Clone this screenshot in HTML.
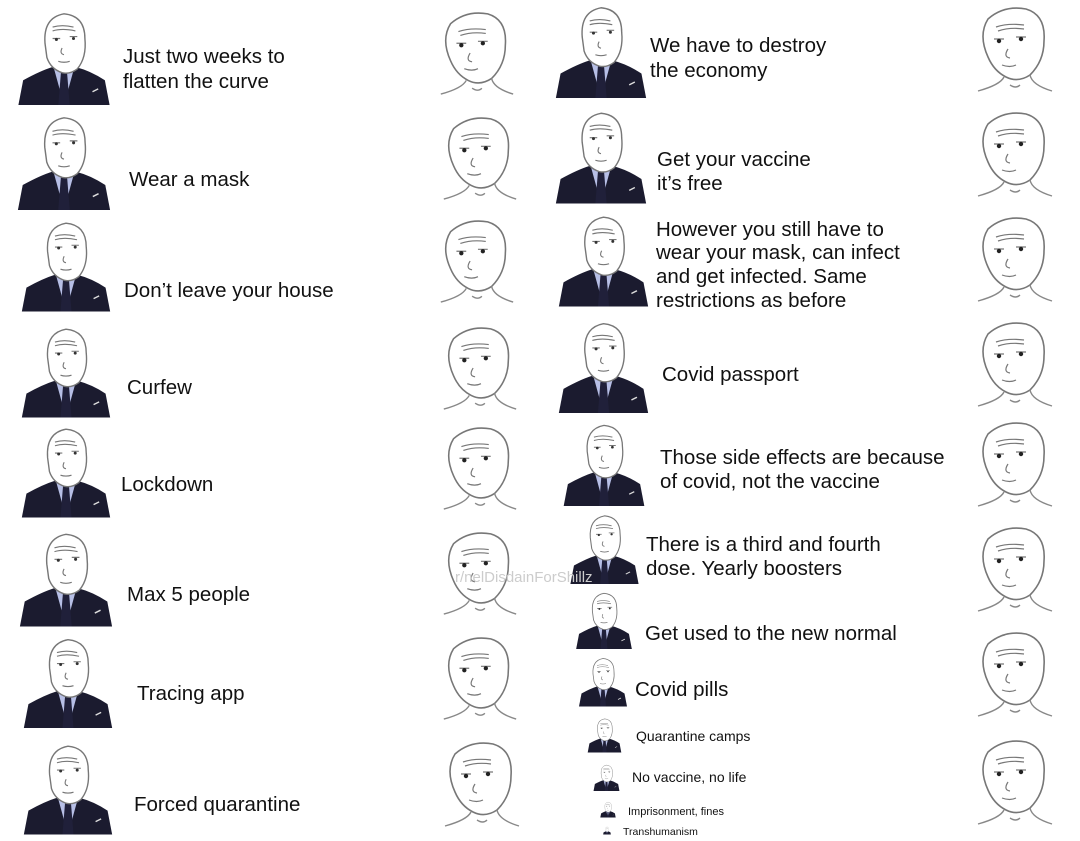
<!DOCTYPE html>
<html><head><meta charset="utf-8"><style>
html,body{margin:0;padding:0;background:#fff;width:1080px;height:841px;overflow:hidden}
text{font-family:"Liberation Sans",Arial,sans-serif;fill:#111}
</style></head><body>
<svg width="1080" height="841" viewBox="0 0 1080 841" xmlns="http://www.w3.org/2000/svg">
<defs>
<symbol id="suit" viewBox="0 0 100 100">
<path d="M2 100 L7 74 Q25 64 38 60 L62 60 Q78 64 93 74 L98 100 Z" fill="#1b1b2f"/>
<polygon points="39,60 61,60 50,100" fill="#b7bfe6"/>
<polygon points="47,63 53,63 56,100 44,100" fill="#20203a"/>
<path d="M30 35 Q28 8 50 4 Q72 6 72 30 Q74 50 64 62 Q56 68 48 66 Q36 62 32 50 Z" fill="#fff" stroke="#777" stroke-width="1.5"/>
<path d="M38 30 h8 M56 28 h8 M48 40 q-3 6 2 7 M44 54 q6 2 12 0 M38 18 q10 -3 22 0 M38 22 q10 -3 24 0" stroke="#777" stroke-width="1.2" fill="none"/>
<circle cx="42" cy="31" r="1.6" fill="#333"/><circle cx="60" cy="30" r="1.6" fill="#333"/>
<path d="M80 86 l6 -3" stroke="#ddd" stroke-width="1.5"/>
</symbol>
<symbol id="head" viewBox="0 0 80 90">
<path d="M14 52 Q4 30 14 14 Q30 0 52 4 Q72 10 70 36 Q70 56 56 70 Q44 78 32 72 Q20 66 14 52 Z" fill="#fff" stroke="#777" stroke-width="1.6"/>
<path d="M30 72 Q26 80 4 86 M56 70 Q58 80 78 86 M36 80 q6 4 10 0" stroke="#888" stroke-width="1.4" fill="none"/>
<path d="M20 34 h10 M42 32 h10 M34 44 q-5 8 2 9 M28 60 q8 3 14 0 M22 22 q12 -4 28 -2 M24 26 q12 -4 26 -2" stroke="#777" stroke-width="1.2" fill="none"/>
<circle cx="25" cy="36" r="2.2" fill="#222"/><circle cx="47" cy="34" r="2.2" fill="#222"/>
</symbol>
</defs>
<use href="#suit" x="16" y="10" width="96" height="95"/>
<use href="#suit" x="16" y="114" width="96" height="96"/>
<use href="#suit" x="20" y="218" width="92" height="95"/>
<use href="#suit" x="20" y="324" width="92" height="95"/>
<use href="#suit" x="20" y="424" width="92" height="95"/>
<use href="#suit" x="18" y="530" width="96" height="97"/>
<use href="#suit" x="22" y="634" width="92" height="96"/>
<use href="#suit" x="22" y="740" width="92" height="97"/>
<use href="#head" x="435" y="10" width="82" height="88"/>
<use href="#head" x="438" y="115" width="82" height="88"/>
<use href="#head" x="435" y="218" width="82" height="88"/>
<use href="#head" x="438" y="325" width="82" height="88"/>
<use href="#head" x="438" y="425" width="82" height="88"/>
<use href="#head" x="438" y="530" width="82" height="88"/>
<use href="#head" x="438" y="635" width="82" height="88"/>
<use href="#head" x="440" y="740" width="82" height="90"/>
<use href="#head" x="972" y="5" width="84" height="90"/>
<use href="#head" x="972" y="110" width="84" height="90"/>
<use href="#head" x="972" y="215" width="84" height="90"/>
<use href="#head" x="972" y="320" width="84" height="90"/>
<use href="#head" x="972" y="420" width="84" height="90"/>
<use href="#head" x="972" y="525" width="84" height="90"/>
<use href="#head" x="972" y="630" width="84" height="90"/>
<use href="#head" x="972" y="738" width="84" height="90"/>
<use href="#suit" x="554" y="4" width="94" height="94"/>
<use href="#suit" x="554" y="108" width="94" height="97"/>
<use href="#suit" x="557" y="212" width="93" height="96"/>
<use href="#suit" x="557" y="320" width="93" height="93"/>
<use href="#suit" x="562" y="420" width="84" height="88"/>
<use href="#suit" x="569" y="512" width="71" height="73"/>
<use href="#suit" x="575" y="590" width="58" height="60"/>
<use href="#suit" x="578" y="655" width="50" height="53"/>
<use href="#suit" x="587" y="717" width="35" height="36"/>
<use href="#suit" x="593" y="762" width="27" height="31"/>
<use href="#suit" x="600" y="801" width="16" height="17"/>
<use href="#suit" x="603" y="826" width="8" height="9"/>
<g font-size="20.5">
<text x="123" y="63">Just two weeks to</text><text x="123" y="88">flatten the curve</text>
<text x="129" y="186">Wear a mask</text>
<text x="124" y="297">Don’t leave your house</text>
<text x="127" y="394">Curfew</text>
<text x="121" y="491">Lockdown</text>
<text x="127" y="601">Max 5 people</text>
<text x="137" y="700">Tracing app</text>
<text x="134" y="811">Forced quarantine</text>
<text x="650" y="52">We have to destroy</text><text x="650" y="77">the economy</text>
<text x="657" y="166">Get your vaccine</text><text x="657" y="190">it’s free</text>
<text x="656" y="236">However you still have to</text><text x="656" y="259">wear your mask, can infect</text>
<text x="656" y="283">and get infected. Same</text><text x="656" y="307">restrictions as before</text>
<text x="662" y="381">Covid passport</text>
<text x="660" y="464">Those side effects are because</text><text x="660" y="488">of covid, not the vaccine</text>
<text x="646" y="551">There is a third and fourth</text><text x="646" y="575">dose. Yearly boosters</text>
<text x="645" y="640">Get used to the new normal</text>
<text x="635" y="696">Covid pills</text>
</g>
<text x="636" y="741" font-size="14">Quarantine camps</text>
<text x="632" y="782" font-size="14">No vaccine, no life</text>
<text x="628" y="815" font-size="11">Imprisonment, fines</text>
<text x="623" y="835" font-size="10.5">Transhumanism</text>
<text x="455" y="582" font-size="15" style="fill:#ccc">r/nelDisdainForShillz</text>
</svg>
</body></html>
